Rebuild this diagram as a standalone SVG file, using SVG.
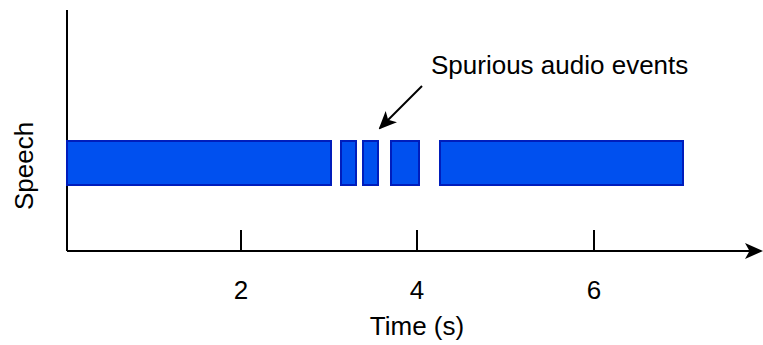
<svg xmlns="http://www.w3.org/2000/svg" width="763" height="345" viewBox="0 0 763 345">
<style>
.bar{fill:#0050ef;stroke:#001dbc;stroke-width:2}
.ax{stroke:#000;stroke-width:2;fill:none}
.t{font-family:"Liberation Sans",Arial,sans-serif;font-size:26px;fill:#000}
</style>
<defs>
<marker id="ah2" markerWidth="18" markerHeight="18" refX="16" refY="9" orient="auto" markerUnits="userSpaceOnUse" viewBox="0 0 18 18">
<path d="M0,1 L18,9 L0,17 L4.5,9 Z" fill="#000"/>
</marker>
</defs>
<g id="connectors">
<path class="ax" d="M67,10 V251"/>
<path class="ax" d="M67,251 H761" marker-end="url(#ah2)"/>
<path class="ax" d="M241,230 V251 M417,230 V251 M594,230 V251"/>
<path class="ax" d="M422,86 L380,128" marker-end="url(#ah2)"/>
</g>
<g id="bars">
<rect class="bar" x="67" y="141" width="264" height="44"/>
<rect class="bar" x="341" y="141" width="15" height="44"/>
<rect class="bar" x="363" y="141" width="15" height="44"/>
<rect class="bar" x="391" y="141" width="28" height="44"/>
<rect class="bar" x="440" y="141" width="243" height="44"/>
</g>
<g id="labels">
<text class="t" x="241" y="299" text-anchor="middle">2</text>
<text class="t" x="417" y="299" text-anchor="middle">4</text>
<text class="t" x="594" y="299" text-anchor="middle">6</text>
<text class="t" x="417" y="335" text-anchor="middle">Time (s)</text>
<text class="t" x="431" y="74">Spurious audio events</text>
<text class="t" transform="translate(33,166) rotate(-90)" text-anchor="middle">Speech</text>
</g>
</svg>
